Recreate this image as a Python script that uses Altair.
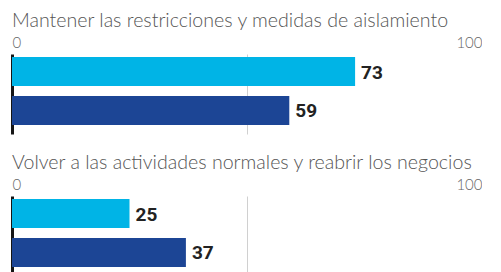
import altair as alt
import pandas as pd

questions = [
    "Mantener las restricciones y medidas de aislamiento",
    "Volver a las actividades normales y reabrir los negocios",
]
series = ["Encuesta 1", "Encuesta 2"]
values_q1 = [73, 59]
values_q2 = [25, 37]
colors = ["#00B4E6", "#1C4595"]
tick_values = [0, 50, 100]


def panel(question, values):
    df = pd.DataFrame({"serie": series, "valor": values})
    base = alt.Chart(df).encode(
        y=alt.Y(
            "serie:N",
            sort=series,
            axis=None,
            scale=alt.Scale(paddingInner=0.256, paddingOuter=0.154, align=0.25),
        ),
        x=alt.X(
            "valor:Q",
            scale=alt.Scale(domain=[0, 100], nice=False, zero=True),
            axis=alt.Axis(
                orient="top",
                values=tick_values,
                labelExpr="datum.value == 50 ? '' : datum.label",
                labelFlush=True,
                labelFont="Lato",
                labelFontSize=15,
                labelFontWeight=300,
                labelColor="#666666",
                labelPadding=4,
                domain=False,
                ticks=False,
                title=None,
                grid=True,
                gridColor={"condition": {"test": "datum.value === 0", "value": "#151515"}, "value": "#d0d0d0"},
                gridWidth={"condition": {"test": "datum.value === 0", "value": 3}, "value": 1},
            ),
        ),
    )
    bars = base.mark_bar().encode(
        color=alt.Color("serie:N", sort=series, scale=alt.Scale(domain=series, range=colors), legend=None)
    )
    labels = base.mark_text(
        align="left", baseline="middle", dx=6, dy=1, font="Roboto", fontSize=19, fontWeight="bold", color="#222222"
    ).encode(text="valor:Q")
    return alt.layer(bars, labels).properties(
        width=470,
        height=80,
        title=alt.TitleParams(
            question,
            anchor="start",
            font="Lato",
            fontSize=19.6,
            fontWeight=300,
            color="#555555",
            offset=3,
        ),
    )


chart = (
    alt.vconcat(panel(questions[0], values_q1), panel(questions[1], values_q2), spacing=19)
    .configure(padding={"left": 4, "top": 3, "right": 0, "bottom": 0})
    .configure_view(stroke=None)
)

chart.save("out.html", embed_options={"renderer": "svg", "actions": False})
